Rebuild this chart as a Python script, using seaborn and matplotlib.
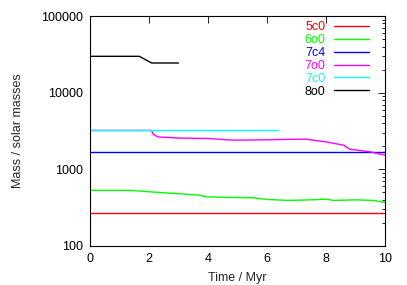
import numpy as np
import pandas as pd
import seaborn as sns
from matplotlib import pyplot as plt
from matplotlib.ticker import LogLocator, NullFormatter, FixedLocator

# run names and colours
runs = ['5c0', '6o0', '7c4', '7o0', '7c0', '8o0']
colors = ['#ff0000', '#00ff00', '#0000ff', '#ff00ff', '#00ffff', '#000000']

# mass vs time (Myr, solar masses)
t_5c0 = [0, 10]
m_5c0 = [267, 267]

t_6o0 = [0, 1.4, 2.0, 2.8, 3.7, 3.95, 4.8, 5.5, 6.0, 6.7, 7.5, 8.0, 8.25, 9.0, 9.6, 10]
m_6o0 = [532, 532, 510, 486, 461, 438, 430, 426, 405, 393, 400, 409, 393, 400, 393, 370]

t_7c4 = [0, 10]
m_7c4 = [1675, 1675]

t_7o0 = [0, 2.08, 2.15, 2.3, 3.0, 4.0, 4.7, 5.0, 6.0, 7.3, 8.0, 8.6, 8.8, 9.5, 10]
m_7o0 = [3215, 3215, 2850, 2650, 2560, 2525, 2420, 2400, 2430, 2480, 2280, 2065, 1833, 1690, 1530]

t_7c0 = [0, 6.38]
m_7c0 = [3215, 3215]

t_8o0 = [0, 1.67, 2.09, 3.0]
m_8o0 = [29800, 29800, 24370, 24370]

series = {
    '5c0': (t_5c0, m_5c0),
    '6o0': (t_6o0, m_6o0),
    '7c4': (t_7c4, m_7c4),
    '7o0': (t_7o0, m_7o0),
    '7c0': (t_7c0, m_7c0),
    '8o0': (t_8o0, m_8o0),
}

df = pd.concat(
    [pd.DataFrame({'time': t, 'mass': m, 'run': name}) for name, (t, m) in series.items()],
    ignore_index=True,
)

sns.set_style('white')
plt.rcParams['font.family'] = ['Liberation Sans', 'DejaVu Sans']

fig = plt.figure(figsize=(4.07, 2.85), dpi=100)
ax = fig.add_axes([90 / 407, 39 / 285, 295 / 407, 230 / 285])

sns.lineplot(data=df, x='time', y='mass', hue='run', hue_order=runs,
             palette=dict(zip(runs, colors)), estimator=None, sort=False,
             linewidth=1.0, ax=ax)

ax.set_yscale('log')
ax.set_xlim(0, 10)
ax.set_ylim(100, 100000)
ax.xaxis.set_major_locator(FixedLocator([0, 2, 4, 6, 8, 10]))
ax.yaxis.set_major_locator(FixedLocator([100, 1000, 10000, 100000]))
ax.set_yticklabels(['100', '1000', '10000', '100000'])
ax.yaxis.set_minor_locator(LogLocator(base=10, subs=np.arange(2, 10)))
ax.yaxis.set_minor_formatter(NullFormatter())

ax.tick_params(which='both', direction='in', top=True, right=True,
               labelsize=9, colors='black', width=0.6)
ax.tick_params(which='major', length=5, pad=5)
ax.tick_params(which='minor', length=2.5)
for s in ax.spines.values():
    s.set_color('black')
    s.set_linewidth(0.8)

ax.set_xlabel('Time / Myr', fontsize=9, labelpad=5)
ax.set_ylabel('Mass / solar masses', fontsize=9, labelpad=12)

leg = ax.legend(loc='upper right', bbox_to_anchor=(0.946, 0.977), frameon=False,
                markerfirst=False, labelcolor='linecolor', fontsize=9,
                handlelength=2.8, handletextpad=0.7, labelspacing=0.07,
                borderpad=0, borderaxespad=0)

fig.savefig('out.png', dpi=100)
